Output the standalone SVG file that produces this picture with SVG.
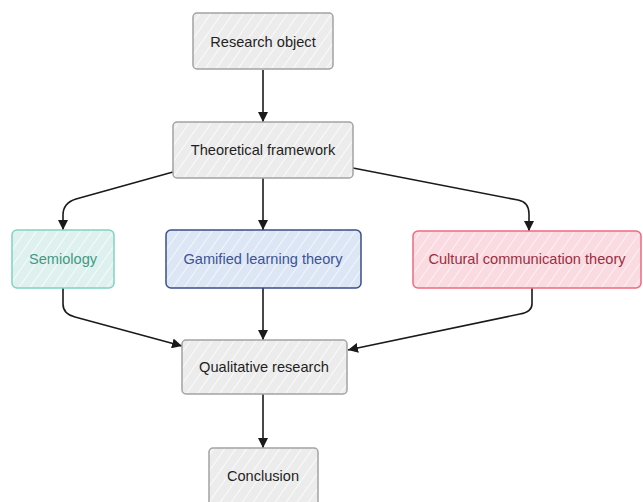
<svg xmlns="http://www.w3.org/2000/svg" width="643" height="502" viewBox="0 0 643 502">
<style>
text{font-family:"Liberation Sans",Arial,sans-serif;font-size:14.6px;text-anchor:middle;dominant-baseline:central}
.n rect{stroke-width:1.5}
.gray rect{fill:url(#hg);stroke:#a3a3a3}
.gray text{fill:#1f1f1f}
.teal rect{fill:url(#ht);stroke:#7fd3c0}
.teal text{fill:#3f9a82}
.blue rect{fill:url(#hb);stroke:#3c4e8c}
.blue text{fill:#3d5496}
.red rect{fill:url(#hr);stroke:#f0697f}
.red text{fill:#a02c40}
.c path{fill:none;stroke:#1a1a1a;stroke-width:1.6}
</style>
<defs>
<pattern id="hg" width="9" height="9" patternUnits="userSpaceOnUse" patternTransform="rotate(35)"><rect width="9" height="9" fill="#ececec"/><line x1="0" y1="0" x2="0" y2="9" stroke="#fafafa" stroke-width="2"/></pattern>
<pattern id="ht" width="9" height="9" patternUnits="userSpaceOnUse" patternTransform="rotate(35)"><rect width="9" height="9" fill="#dff1ef"/><line x1="0" y1="0" x2="0" y2="9" stroke="#f4fbfa" stroke-width="2"/></pattern>
<pattern id="hb" width="9" height="9" patternUnits="userSpaceOnUse" patternTransform="rotate(35)"><rect width="9" height="9" fill="#dce6f4"/><line x1="0" y1="0" x2="0" y2="9" stroke="#f2f6fc" stroke-width="2"/></pattern>
<pattern id="hr" width="9" height="9" patternUnits="userSpaceOnUse" patternTransform="rotate(35)"><rect width="9" height="9" fill="#fbdbe2"/><line x1="0" y1="0" x2="0" y2="9" stroke="#fdf0f3" stroke-width="2"/></pattern>
<marker id="ah" viewBox="0 0 10 10" refX="10" refY="5" markerWidth="10" markerHeight="10" markerUnits="userSpaceOnUse" orient="auto"><path d="M0,0 L10,5 L0,10 Z" fill="#1a1a1a"/></marker>
</defs>
<g class="c" id="connectors">
<path d="M263,70 L263,122" marker-end="url(#ah)"/>
<path d="M173,172 L76,199 Q63,203 63,215 L63,230" marker-end="url(#ah)"/>
<path d="M263,178 L263,230" marker-end="url(#ah)"/>
<path d="M353,168 L518,200 Q529,202 529,214 L529,231" marker-end="url(#ah)"/>
<path d="M63,288 L63,304 Q63,314 75,317 L182,346" marker-end="url(#ah)"/>
<path d="M263,288 L263,340" marker-end="url(#ah)"/>
<path d="M532,288 L532,304 Q532,312 520,314 L348,350" marker-end="url(#ah)"/>
<path d="M263,394 L263,448" marker-end="url(#ah)"/>
</g>
<g class="n gray" id="research-object"><rect x="193" y="13" width="140" height="56" rx="4"/><text x="263" y="42">Research object</text></g>
<g class="n gray" id="theoretical-framework"><rect x="173" y="122" width="180" height="56" rx="4"/><text x="263" y="150">Theoretical framework</text></g>
<g class="n teal" id="semiology"><rect x="12" y="230" width="102" height="58" rx="5"/><text x="63" y="259">Semiology</text></g>
<g class="n blue" id="gamified"><rect x="166" y="230" width="195" height="58" rx="5"/><text x="263" y="259">Gamified learning theory</text></g>
<g class="n red" id="cultural"><rect x="413" y="231" width="228" height="57" rx="5"/><text x="527" y="259">Cultural communication theory</text></g>
<g class="n gray" id="qualitative"><rect x="182" y="340" width="165" height="54" rx="4"/><text x="264" y="367">Qualitative research</text></g>
<g class="n gray" id="conclusion"><rect x="209" y="448" width="109" height="60" rx="4"/><text x="263" y="476">Conclusion</text></g>
</svg>
